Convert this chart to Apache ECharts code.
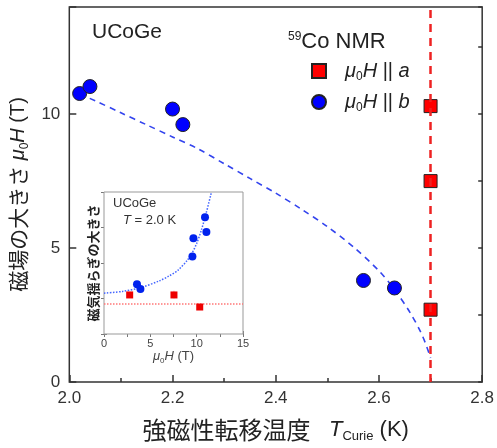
<!DOCTYPE html>
<html>
<head>
    <meta charset="utf-8">
    <title>UCoGe</title>
    <script src="https://cdn.jsdelivr.net/npm/echarts@6/dist/echarts.min.js"></script>
</head>
<body style="margin:0">
<div id="main" style="width:497px;height:448px;"></div>
<script type="text/javascript">
    // main panel: Curie temperature vs field
    var tcA = [2.7, 2.7, 2.7];
    var hA = [10.3, 7.5, 2.7];
    var tcB = [2.02, 2.04, 2.2, 2.22, 2.57, 2.63];
    var hB = [10.77, 11.03, 10.19, 9.61, 3.79, 3.51];
    var fitT = [2.02, 2.05, 2.1, 2.15, 2.2, 2.25, 2.3, 2.35, 2.4, 2.45, 2.5, 2.55, 2.6, 2.63, 2.66, 2.68, 2.69, 2.7];
    var fitH = [10.75, 10.5, 10.05, 9.6, 9.15, 8.7, 8.15, 7.6, 7.05, 6.45, 5.8, 5.05, 4.15, 3.45, 2.6, 1.9, 1.45, 0.9];
    var tcZero = 2.7;

    // inset: fluctuation vs field at 2.0 K
    var inBx = [3.56, 3.93, 9.54, 9.65, 10.9, 11.05];
    var inBy = [1.40, 1.27, 2.18, 2.70, 3.29, 2.87];
    var inAx = [2.77, 7.55, 10.33];
    var inAy = [1.10, 1.10, 0.76];
    var inFitX = [0, 2, 4, 6, 7, 8, 9, 9.5, 10, 10.5, 11, 11.6];
    var inFitY = [1.15, 1.2, 1.31, 1.5, 1.63, 1.8, 2.08, 2.28, 2.55, 2.92, 3.38, 4.0];
    var inALevel = 0.84;
    var errX = 7.55, errLo = 1.0, errHi = 1.22;

    function zip(a, b) {
        var out = [];
        for (var i = 0; i < a.length; i++) out.push([a[i], b[i]]);
        return out;
    }

    var font = "'Liberation Sans', 'Noto Sans CJK JP', sans-serif";
    var jpFont = "'Noto Sans CJK JP', sans-serif";
    var rich = {
        jp: {fontFamily: jpFont, fontSize: 21, color: '#222'},
        i: {fontStyle: 'italic', fontSize: 20, color: '#222', fontFamily: font},
        n: {fontSize: 20, color: '#222', fontFamily: font},
        sub: {fontSize: 12, padding: [12, 0, 0, 0], color: '#222', fontFamily: font}
    };
    var richX = {
        jp: {fontFamily: jpFont, fontSize: 24, color: '#222'},
        i: {fontStyle: 'italic', fontSize: 22, color: '#222', fontFamily: font},
        n: {fontSize: 22, color: '#222', fontFamily: font},
        sub: {fontSize: 13, padding: [14, 0, 0, 0], color: '#222', fontFamily: font}
    };

    var myChart = echarts.init(document.getElementById('main'));
    var option = {
        animation: false,
        textStyle: {fontFamily: font},
        grid: [
            {left: 66, top: 7, right: 14, bottom: 65, show: true, borderColor: '#333', borderWidth: 1.5},
            {left: 104, top: 192, width: 139, height: 142, show: true, borderColor: '#999', borderWidth: 1,
                backgroundColor: '#fff', z: 3}
        ],
        xAxis: [{
            gridIndex: 0, type: 'value', min: 2.0, max: 2.8, interval: 0.2,
            axisLine: {show: false},
            axisTick: {inside: true, length: 7, lineStyle: {color: '#333', width: 1.5}},
            minorTick: {show: true, splitNumber: 2, length: 4, lineStyle: {color: '#333', width: 1.5}},
            splitLine: {show: false},
            axisLabel: {fontSize: 17, color: '#333', margin: 8, formatter: function (v) { return v.toFixed(1); }},
            name: '{jp|強磁性転移温度}{n|   }{i|T}{sub|Curie}{n| (K)}',
            nameLocation: 'middle', nameGap: 34,
            nameTextStyle: {rich: richX}
        }, {
            gridIndex: 1, type: 'value', min: 0, max: 15, interval: 5,
            axisLine: {show: false},
            axisTick: {inside: true, length: 3, lineStyle: {color: '#777'}},
            minorTick: {show: true, splitNumber: 2, length: 3, lineStyle: {color: '#777'}},
            splitLine: {show: false},
            axisLabel: {fontSize: 11, color: '#444', margin: 4},
            name: '{i|μ}{sub|0}{i|H}{n| (T)}', nameLocation: 'middle', nameGap: 14,
            nameTextStyle: {rich: {
                i: {fontStyle: 'italic', fontSize: 13, color: '#444'},
                n: {fontSize: 13, color: '#444'},
                sub: {fontSize: 8, padding: [8, 0, 0, 0], color: '#444'}
            }}
        }, {
            gridIndex: 1, type: 'value', min: 0, max: 15, interval: 5, position: 'top',
            axisLine: {show: false},
            axisTick: {inside: true, length: 3, lineStyle: {color: '#777'}},
            minorTick: {show: true, splitNumber: 2, length: 3, lineStyle: {color: '#777'}},
            splitLine: {show: false}, axisLabel: {show: false}
        }],
        yAxis: [{
            gridIndex: 0, type: 'value', min: 0, max: 14, interval: 5,
            axisLine: {show: false},
            axisTick: {inside: true, length: 7, lineStyle: {color: '#333', width: 1.5}},
            splitLine: {show: false},
            axisLabel: {fontSize: 17, color: '#333', margin: 9, formatter: function (v) { return v % 5 === 0 ? v : ''; }},
            name: '{jp|磁場の大きさ}{n| }{i|μ}{sub|0}{i|H}{n| (T)}',
            nameLocation: 'middle', nameGap: 38,
            nameTextStyle: {rich: rich}
        }, {
            gridIndex: 0, type: 'value', min: 0, max: 14, interval: 2.5,
            axisLine: {show: false},
            axisTick: {inside: true, length: 4, lineStyle: {color: '#333', width: 1.5}},
            splitLine: {show: false}, axisLabel: {show: false}
        }, {
            gridIndex: 1, type: 'value', min: 0, max: 4, interval: 1,
            axisLine: {show: false},
            axisTick: {inside: true, length: 3, lineStyle: {color: '#777'}},
            splitLine: {show: false}, axisLabel: {show: false},
            name: '磁気揺らぎの大きさ', nameLocation: 'middle', nameGap: 4,
            nameTextStyle: {fontFamily: jpFont, fontSize: 13, color: '#222', fontWeight: 'bold'}
        }, {
            gridIndex: 1, type: 'value', min: 0, max: 4, interval: 1, position: 'right',
            axisLine: {show: false},
            axisTick: {inside: true, length: 3, lineStyle: {color: '#777'}},
            splitLine: {show: false}, axisLabel: {show: false}
        }],
        legend: {
            orient: 'vertical', left: 306, top: 56, itemGap: 9,
            itemWidth: 14, itemHeight: 14,
            data: [{name: 'a', icon: 'rect'}, {name: 'b', icon: 'circle'}],
            formatter: function (name) {
                return '{i|μ}{sub|0}{i|H}{n| || }{i|' + name + '}';
            },
            textStyle: {padding: [0, 0, 0, 14], rich: rich}
        },
        graphic: [
            {type: 'text', left: 92, top: 22, z: 10,
                style: {text: 'UCoGe', fontSize: 21, fill: '#222', fontFamily: font}},
            {type: 'text', left: 288, top: 31, z: 10,
                style: {text: '{sup|59}{n|Co NMR}', fill: '#222', fontFamily: font,
                    rich: {sup: {fontSize: 12, padding: [0, 0, 10, 0], fill: '#222'},
                        n: {fontSize: 22, fill: '#222'}}}},
            {type: 'text', left: 113, top: 197, z: 10,
                style: {text: 'UCoGe', fontSize: 13, fill: '#333', fontFamily: font}},
            {type: 'text', left: 123, top: 214, z: 10,
                style: {text: '{i|T} = 2.0 K', fontSize: 13, fill: '#333', fontFamily: font,
                    rich: {i: {fontStyle: 'italic', fontSize: 13, fill: '#333'}}}}
        ],
        series: [{
            name: 'fit', type: 'line', xAxisIndex: 0, yAxisIndex: 0,
            data: zip(fitT, fitH), smooth: 0.3, showSymbol: false, silent: true,
            lineStyle: {color: '#3344ee', width: 1.6, type: [6, 5]}, z: 2
        }, {
            name: 'tc', type: 'line', xAxisIndex: 0, yAxisIndex: 0, data: [],
            markLine: {symbol: 'none', silent: true, label: {show: false},
                lineStyle: {color: '#ee2222', width: 2.5, type: [8, 6]},
                data: [{xAxis: tcZero}]}
        }, {
            name: 'a', type: 'scatter', xAxisIndex: 0, yAxisIndex: 0,
            data: zip(tcA, hA), symbol: 'rect', symbolSize: 13,
            itemStyle: {color: '#ff0000', borderColor: '#222', borderWidth: 1, opacity: 1}, z: 4
        }, {
            name: 'b', type: 'scatter', xAxisIndex: 0, yAxisIndex: 0,
            data: zip(tcB, hB), symbol: 'circle', symbolSize: 14,
            itemStyle: {color: '#0000ff', borderColor: '#222', borderWidth: 1, opacity: 1}, z: 4
        }, {
            name: 'inFit', type: 'line', xAxisIndex: 1, yAxisIndex: 2,
            data: zip(inFitX, inFitY), smooth: 0.3, showSymbol: false, silent: true,
            lineStyle: {color: '#4466ff', width: 1.5, type: 'dotted'}, z: 5
        }, {
            name: 'inLevel', type: 'line', xAxisIndex: 1, yAxisIndex: 2, data: [],
            markLine: {symbol: 'none', silent: true, label: {show: false},
                lineStyle: {color: '#ff7777', width: 1.5, type: 'dotted'},
                data: [{yAxis: inALevel}]}, z: 5
        }, {
            name: 'inErr', type: 'line', xAxisIndex: 1, yAxisIndex: 2,
            data: [[errX, errLo], [errX, errHi]], showSymbol: false, silent: true,
            lineStyle: {color: '#ffaaaa', width: 1}, z: 5
        }, {
            name: 'inA', type: 'scatter', xAxisIndex: 1, yAxisIndex: 2,
            data: zip(inAx, inAy), symbol: 'rect', symbolSize: 7,
            itemStyle: {color: '#ee0000', opacity: 1}, z: 6
        }, {
            name: 'inB', type: 'scatter', xAxisIndex: 1, yAxisIndex: 2,
            data: zip(inBx, inBy), symbol: 'circle', symbolSize: 8,
            itemStyle: {color: '#0022ee', opacity: 1}, z: 6
        }]
    };
    myChart.setOption(option);
</script>
</body>
</html>
